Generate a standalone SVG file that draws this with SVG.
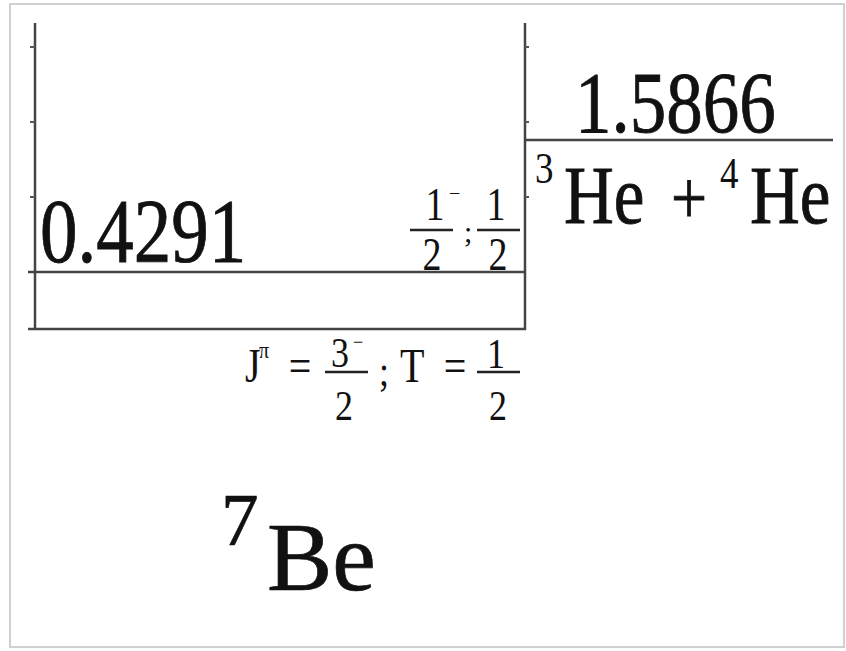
<svg xmlns="http://www.w3.org/2000/svg" width="846" height="651" viewBox="0 0 846 651">
<style>
text{font-family:'Liberation Serif','Tinos','Times New Roman','DejaVu Serif',serif;fill:#111}
.big{stroke:#111;stroke-width:0.7}
.ln{stroke:#444;stroke-width:2.5;fill:none}
.tk{stroke:#555;stroke-width:2;fill:none}
.fb{stroke:#222;stroke-width:2.4;fill:none}
</style>
<rect x="0" y="0" width="846" height="651" fill="#ffffff"/>
<rect x="10" y="4" width="834" height="643" fill="#ffffff" stroke="#d0d0d0" stroke-width="2"/>
<g id="connectors">
<line class="ln" x1="35" y1="23" x2="35" y2="330"/>
<line class="ln" x1="525" y1="23" x2="525" y2="330"/>
<line class="ln" x1="28" y1="329" x2="526" y2="329"/>
<path class="tk" d="M30 47H35M30 122H35M30 197H35M525 47H529M525 122H529M525 197H529"/>
</g>
<g id="level-0.4291">
<line class="ln" x1="28" y1="272" x2="526" y2="272"/>
<text class="big" font-size="75" transform="translate(40,262) scale(1,1.2)">0.4291</text>
<g id="spin-half-minus">
<text font-size="38" text-anchor="middle" transform="translate(435,220) scale(1,1.2)">1</text>
<text font-size="20" transform="translate(449,200)">−</text>
<line class="fb" x1="410" y1="230" x2="453" y2="230"/>
<text font-size="38" text-anchor="middle" transform="translate(432,270) scale(1,1.2)">2</text>
<text font-size="30" transform="translate(464,242)">;</text>
<text font-size="38" text-anchor="middle" transform="translate(496,220) scale(1,1.2)">1</text>
<line class="fb" x1="477" y1="230" x2="520" y2="230"/>
<text font-size="38" text-anchor="middle" transform="translate(498,270) scale(1,1.2)">2</text>
</g>
</g>
<g id="threshold-1.5866">
<line class="ln" x1="525" y1="140" x2="833" y2="140"/>
<text class="big" font-size="73" transform="translate(575,132) scale(1,1.2)">1.5866</text>
<text font-size="37" transform="translate(535,183) scale(1,1.2)">3</text>
<text class="big" font-size="69" transform="translate(564,223) scale(1,1.2)">He</text>
<text class="big" font-size="64" transform="translate(671,223) scale(1,1.2)">+</text>
<text font-size="37" transform="translate(720,188) scale(1,1.2)">4</text>
<text class="big" font-size="69" transform="translate(750,223) scale(1,1.2)">He</text>
</g>
<g id="ground-state-label">
<text font-size="40" transform="translate(245,382) scale(1,1.2)">J</text>
<text font-size="20" transform="translate(259,358) scale(1,1.2)">π</text>
<text font-size="40" text-anchor="middle" transform="translate(300,382) scale(1,1.2)">=</text>
<text font-size="36" text-anchor="middle" transform="translate(340,367) scale(1,1.2)">3</text>
<text font-size="18" transform="translate(353,348)">−</text>
<line class="fb" x1="325" y1="372" x2="368" y2="372"/>
<text font-size="36" text-anchor="middle" transform="translate(344,420) scale(1,1.2)">2</text>
<text font-size="36" transform="translate(379,385) scale(1,1.2)">;</text>
<text font-size="40" transform="translate(400,382) scale(1,1.2)">T</text>
<text font-size="40" text-anchor="middle" transform="translate(455,382) scale(1,1.2)">=</text>
<text font-size="36" text-anchor="middle" transform="translate(496,368) scale(1,1.2)">1</text>
<line class="fb" x1="477" y1="372" x2="520" y2="372"/>
<text font-size="36" text-anchor="middle" transform="translate(498,420) scale(1,1.2)">2</text>
</g>
<g id="nucleus-label">
<text class="big" font-size="75" x="221" y="545">7</text>
<text class="big" font-size="98" x="267" y="590">Be</text>
</g>
</svg>
